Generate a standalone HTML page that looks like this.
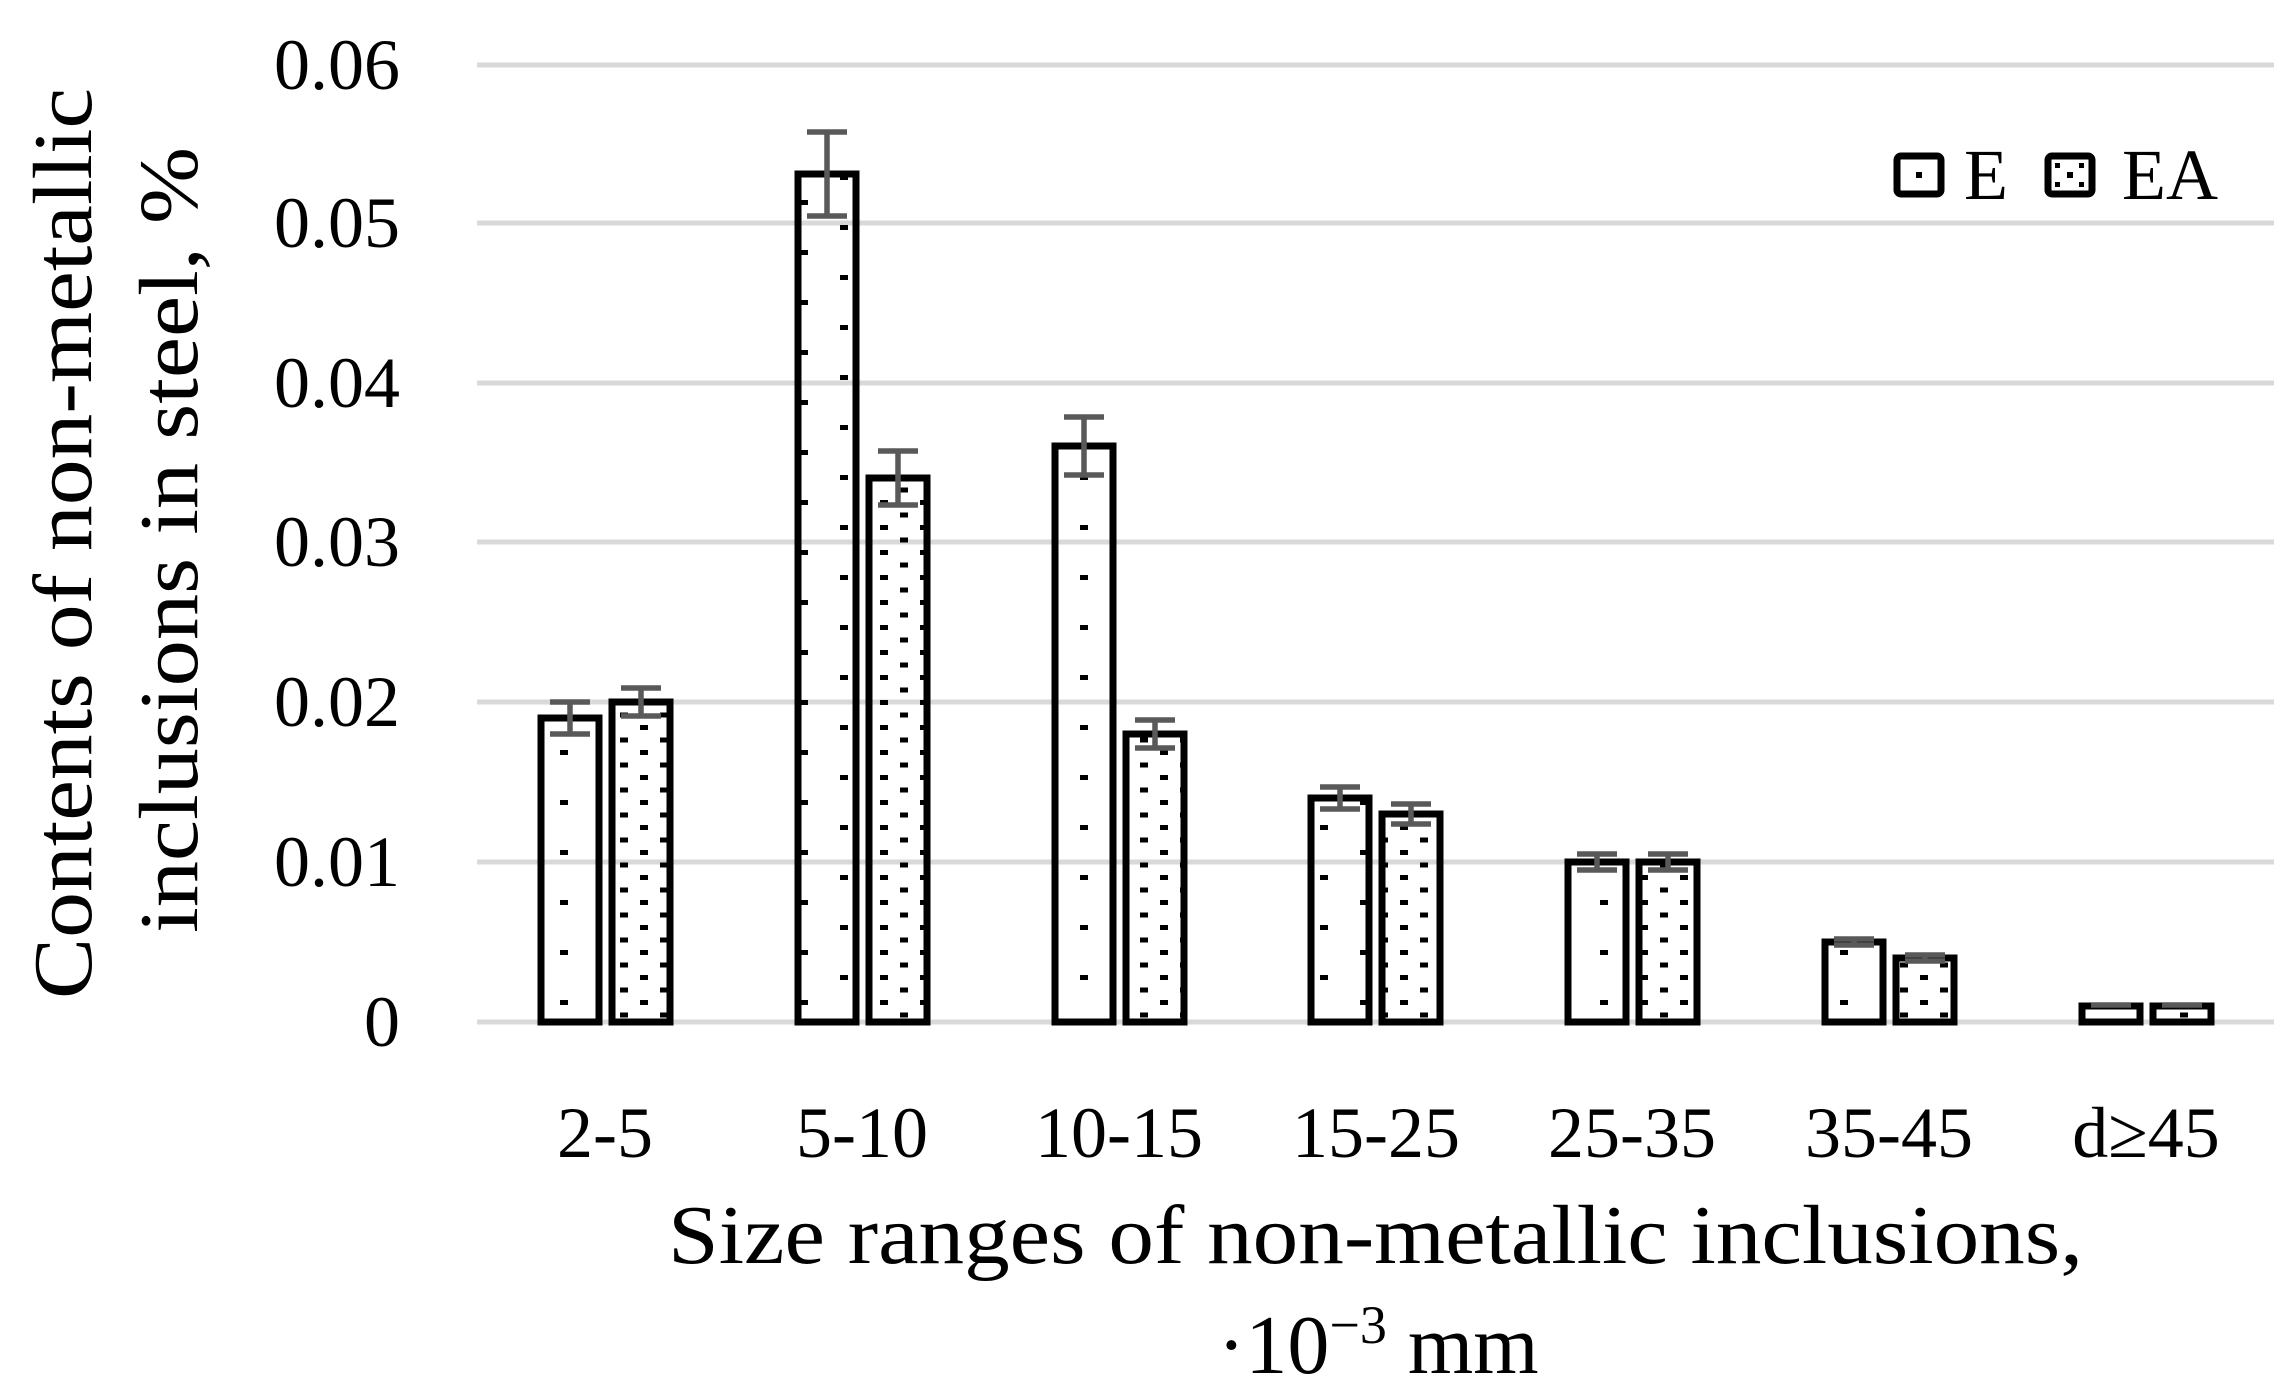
<!DOCTYPE html>
<html><head><meta charset="utf-8"><style>html,body{margin:0;padding:0;background:#fff}</style></head><body>
<svg width="2292" height="1395" viewBox="0 0 2292 1395" xmlns="http://www.w3.org/2000/svg" font-family="'Liberation Serif', serif">
<defs>
<pattern id="pe" width="80" height="50" patternUnits="userSpaceOnUse">
<rect x="0" y="0" width="8" height="5" fill="#000"/><rect x="40" y="25" width="8" height="5" fill="#000"/>
</pattern>
<pattern id="pa" width="40" height="25" patternUnits="userSpaceOnUse">
<rect x="0" y="0" width="8" height="5" fill="#000"/><rect x="20" y="12.5" width="8" height="5" fill="#000"/>
</pattern>
</defs>
<g stroke="#d9d9d9" stroke-width="5">
<line x1="477" y1="65" x2="2274" y2="65"/><line x1="477" y1="223" x2="2274" y2="223"/><line x1="477" y1="383" x2="2274" y2="383"/><line x1="477" y1="542" x2="2274" y2="542"/><line x1="477" y1="702" x2="2274" y2="702"/><line x1="477" y1="862" x2="2274" y2="862"/><line x1="477" y1="1022" x2="2274" y2="1022"/>
</g>
<g font-size="72" text-anchor="end" fill="#000">
<text x="400" y="89">0.06</text><text x="400" y="247">0.05</text><text x="400" y="407">0.04</text><text x="400" y="566">0.03</text><text x="400" y="726">0.02</text><text x="400" y="886">0.01</text><text x="400" y="1046">0</text>
</g>
<g stroke="#000" stroke-width="7">
<rect x="541" y="718" width="58" height="304" fill="url(#pe)"/>
<rect x="798" y="174" width="58" height="848" fill="url(#pe)"/>
<rect x="1055" y="446" width="58" height="576" fill="url(#pe)"/>
<rect x="1311" y="798" width="58" height="224" fill="url(#pe)"/>
<rect x="1568" y="862" width="58" height="160" fill="url(#pe)"/>
<rect x="1825" y="942" width="58" height="80" fill="url(#pe)"/>
<rect x="2082" y="1006" width="58" height="16" fill="url(#pe)"/>
<rect x="612" y="702" width="58" height="320" fill="url(#pa)"/>
<rect x="869" y="478" width="58" height="544" fill="url(#pa)"/>
<rect x="1126" y="734" width="58" height="288" fill="url(#pa)"/>
<rect x="1382" y="814" width="58" height="208" fill="url(#pa)"/>
<rect x="1639" y="862" width="58" height="160" fill="url(#pa)"/>
<rect x="1896" y="958" width="58" height="64" fill="url(#pa)"/>
<rect x="2153" y="1006" width="58" height="16" fill="url(#pa)"/>
</g>
<g stroke="#595959" stroke-width="5.5" fill="none">
<path d="M570 702V734M550 702H590M550 734H590"/>
<path d="M827 132V216M807 132H847M807 216H847"/>
<path d="M1084 417V475M1064 417H1104M1064 475H1104"/>
<path d="M1340 787V809M1320 787H1360M1320 809H1360"/>
<path d="M1597 854V870M1577 854H1617M1577 870H1617"/>
<path d="M1854 939V945M1834 939H1874M1834 945H1874"/>
<path d="M2091 1005H2131"/>
<path d="M641 688V716M621 688H661M621 716H661"/>
<path d="M898 451V505M878 451H918M878 505H918"/>
<path d="M1155 720V748M1135 720H1175M1135 748H1175"/>
<path d="M1411 804V824M1391 804H1431M1391 824H1431"/>
<path d="M1668 854V870M1648 854H1688M1648 870H1688"/>
<path d="M1925 955V961M1905 955H1945M1905 961H1945"/>
<path d="M2162 1005H2202"/>
</g>
<g font-size="72" text-anchor="middle" fill="#000">
<text x="605" y="1157">2-5</text><text x="862" y="1157">5-10</text><text x="1119" y="1157">10-15</text><text x="1376" y="1157">15-25</text><text x="1632" y="1157">25-35</text><text x="1889" y="1157">35-45</text><text x="2146" y="1157">d≥45</text>
</g>
<g font-size="84" fill="#000">
<text x="668" y="1263" textLength="1415" lengthAdjust="spacingAndGlyphs">Size ranges of non-metallic inclusions,</text>
<text x="1378" y="1373" text-anchor="middle">·10<tspan font-size="54" dy="-30">−3</tspan><tspan dy="30"> mm</tspan></text>
<text transform="translate(91,999) rotate(-90)" textLength="911" lengthAdjust="spacingAndGlyphs">Contents of non-metallic</text>
<text transform="translate(197,933) rotate(-90)" textLength="786" lengthAdjust="spacingAndGlyphs">inclusions in steel, %</text>
</g>
<rect x="1897" y="156" width="44" height="38" rx="4" fill="#fff" stroke="#000" stroke-width="7"/>
<rect x="1916" y="172" width="6" height="6" fill="#000"/>
<text x="1964" y="199" font-size="72" fill="#000">E</text>
<rect x="2048" y="156" width="44" height="38" rx="4" fill="#fff" stroke="#000" stroke-width="7"/>
<rect x="2055" y="163" width="5" height="5" fill="#000"/><rect x="2079" y="163" width="5" height="5" fill="#000"/><rect x="2067" y="172" width="6" height="6" fill="#000"/><rect x="2055" y="182" width="5" height="5" fill="#000"/><rect x="2079" y="182" width="5" height="5" fill="#000"/>
<text x="2122" y="199" font-size="72" fill="#000">EA</text>
</svg>
</body></html>
